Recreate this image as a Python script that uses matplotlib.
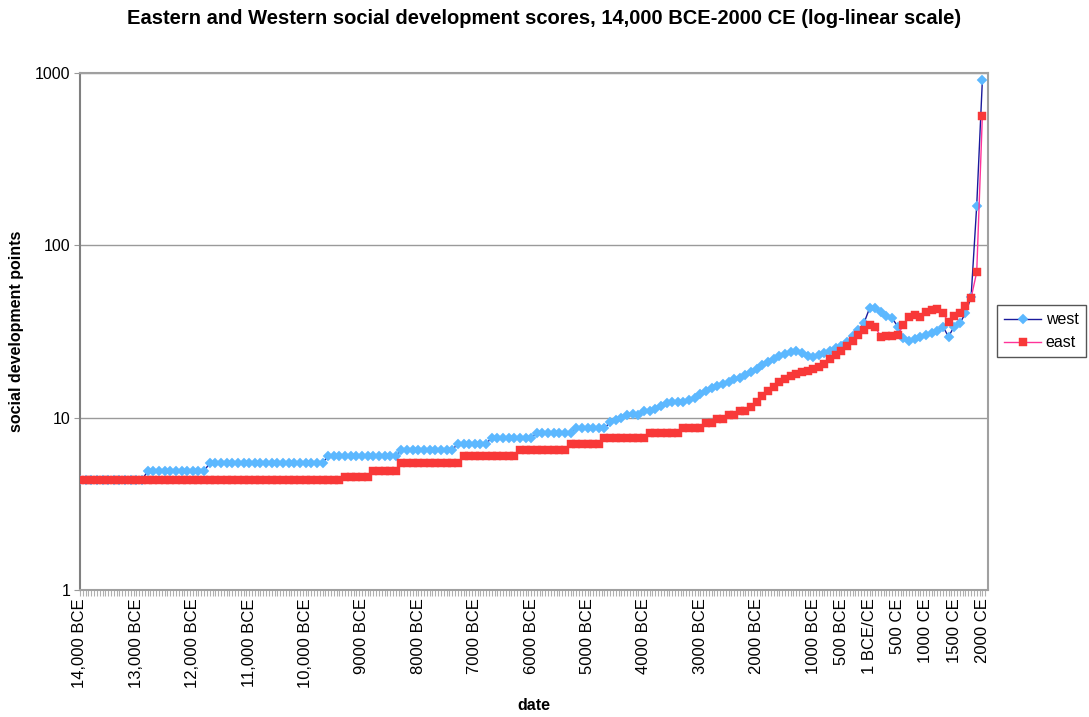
import numpy as np
import matplotlib
matplotlib.use("Agg")
import matplotlib.pyplot as plt

plt.rcParams['font.family'] = ['Liberation Sans', 'DejaVu Sans']

# one category every 100 years, 14,000 BCE .. 2000 CE
n_points = 161

west = [
    4.36, 4.36, 4.36, 4.36, 4.36, 4.36, 4.36, 4.36, 4.36, 4.36,
    4.36, 4.36, 4.9, 4.9, 4.9, 4.9, 4.9, 4.9, 4.9, 4.9,
    4.9, 4.9, 4.9, 5.45, 5.45, 5.45, 5.45, 5.45, 5.45, 5.45,
    5.45, 5.45, 5.45, 5.45, 5.45, 5.45, 5.45, 5.45, 5.45, 5.45,
    5.45, 5.45, 5.45, 5.45, 6.0, 6.0, 6.0, 6.0, 6.0, 6.0,
    6.0, 6.0, 6.0, 6.0, 6.0, 6.0, 6.0, 6.5, 6.5, 6.5,
    6.5, 6.5, 6.5, 6.5, 6.5, 6.5, 6.5, 7.06, 7.06, 7.06,
    7.06, 7.06, 7.06, 7.63, 7.63, 7.63, 7.63, 7.63, 7.63, 7.63,
    7.63, 8.17, 8.17, 8.17, 8.17, 8.17, 8.17, 8.17, 8.7, 8.7,
    8.7, 8.7, 8.7, 8.7, 9.4, 9.7, 10.0, 10.4, 10.5, 10.4,
    10.9, 11.0, 11.3, 11.7, 12.1, 12.4, 12.3, 12.3, 12.7, 13.0,
    13.7, 14.3, 14.8, 15.2, 15.6, 16.2, 16.7, 17.1, 17.6, 18.3,
    19.2, 20.2, 21.1, 22.0, 22.8, 23.4, 23.9, 24.5, 23.6, 22.9,
    22.4, 23.0, 23.6, 24.5, 25.2, 26.0, 27.4, 29.7, 32.3, 35.3,
    43.2, 43.0, 41.2, 39.0, 37.8, 33.8, 28.9, 28.0, 28.5, 29.2,
    30.2, 30.9, 32.0, 33.8, 29.5, 33.8, 35.3, 40.3, 50.0, 170.0,
    906.0,
]

east = [
    4.36, 4.36, 4.36, 4.36, 4.36, 4.36, 4.36, 4.36, 4.36, 4.36,
    4.36, 4.36, 4.36, 4.36, 4.36, 4.36, 4.36, 4.36, 4.36, 4.36,
    4.36, 4.36, 4.36, 4.36, 4.36, 4.36, 4.36, 4.36, 4.36, 4.36,
    4.36, 4.36, 4.36, 4.36, 4.36, 4.36, 4.36, 4.36, 4.36, 4.36,
    4.36, 4.36, 4.36, 4.36, 4.36, 4.36, 4.36, 4.5, 4.5, 4.5,
    4.5, 4.5, 4.9, 4.9, 4.9, 4.9, 4.9, 5.45, 5.45, 5.45,
    5.45, 5.45, 5.45, 5.45, 5.45, 5.45, 5.45, 5.45, 6.0, 6.0,
    6.0, 6.0, 6.0, 6.0, 6.0, 6.0, 6.0, 6.0, 6.5, 6.5,
    6.5, 6.5, 6.5, 6.5, 6.5, 6.5, 6.5, 7.06, 7.06, 7.06,
    7.06, 7.06, 7.06, 7.6, 7.6, 7.6, 7.6, 7.6, 7.6, 7.6,
    7.6, 8.15, 8.15, 8.15, 8.15, 8.15, 8.15, 8.7, 8.7, 8.7,
    8.7, 9.3, 9.3, 9.8, 9.8, 10.4, 10.4, 11.0, 11.0, 11.6,
    12.3, 13.3, 14.2, 15.1, 16.0, 16.8, 17.4, 17.9, 18.3, 18.7,
    19.2, 19.8, 20.5, 21.8, 23.0, 24.5, 26.2, 28.0, 30.0, 32.3,
    34.3, 33.6, 29.5, 29.7, 29.7, 30.2, 34.5, 38.6, 39.4, 38.6,
    41.2, 42.2, 42.5, 40.3, 36.1, 38.9, 40.3, 44.5, 49.4, 70.0,
    565.0,
]

# labelled categories (index into the 100-year series)
label_idx = [0, 10, 20, 30, 40, 50, 60, 70, 80, 90, 100, 110, 120,
             130, 135, 140, 145, 150, 155, 160]
label_txt = ["14,000 BCE", "13,000 BCE", "12,000 BCE", "11,000 BCE",
             "10,000 BCE", "9000 BCE", "8000 BCE", "7000 BCE", "6000 BCE",
             "5000 BCE", "4000 BCE", "3000 BCE", "2000 BCE", "1000 BCE",
             "500 BCE", "1 BCE/CE", "500 CE", "1000 CE", "1500 CE", "2000 CE"]

x = np.arange(n_points)

fig = plt.figure(figsize=(10.89, 7.17), dpi=100)
ax = fig.add_axes([80 / 1089, 1 - 590 / 717, 908 / 1089, 517 / 717])

ax.plot(x, west, color='#1a1a9c', lw=1.0, marker='D', markersize=4.6,
        markerfacecolor='#5cb8ff', markeredgecolor='#5cb8ff', markeredgewidth=0.3,
        label='west', zorder=3)
ax.plot(x, east, color='#ff3399', lw=1.0, marker='s', markersize=6.3,
        markerfacecolor='#f83838', markeredgecolor='#f83838', markeredgewidth=0.3,
        label='east', zorder=3)

ax.set_yscale('log')
ax.set_ylim(1, 1000)
ax.set_yticks([1, 10, 100, 1000])
ax.set_yticklabels(['1', '10', '100', '1000'], fontsize=11.5)
ax.yaxis.set_minor_locator(matplotlib.ticker.NullLocator())
ax.grid(axis='y', which='major', color='#9a9a9a', lw=1.0)

ax.set_xlim(0, 161)
ax.set_xticks(label_idx)
ax.set_xticklabels(label_txt, rotation=90, fontsize=12)
ax.set_xticks(np.arange(0, 161, 0.5), minor=True)
ax.tick_params(axis='x', which='both', length=4, color='#b0b0b0', width=0.8, pad=2)
ax.tick_params(axis='y', length=4, color='#9a9a9a', pad=3)

for side in ['top', 'right', 'bottom']:
    ax.spines[side].set_color('#a0a0a0')
    ax.spines[side].set_linewidth(1.5)
ax.spines['left'].set_color('#808080')
ax.spines['left'].set_linewidth(1.5)

ax.set_xlabel('date', fontsize=11.5, fontweight='bold', labelpad=7)
ax.set_ylabel('social development points', fontsize=11.5, fontweight='bold', labelpad=8)
fig.suptitle('Eastern and Western social development scores, 14,000 BCE-2000 CE (log-linear scale)',
             fontsize=14.5, fontweight='bold', y=0.988)

fig.legend(loc='upper left', bbox_to_anchor=(997 / 1089, 1 - 305 / 717),
           fontsize=11.5, frameon=True, fancybox=False, edgecolor='#555555',
           framealpha=1, borderpad=0.45, handlelength=2.3, labelspacing=0.5,
           handletextpad=0.3, borderaxespad=0)

fig.savefig('out.png', dpi=100)
